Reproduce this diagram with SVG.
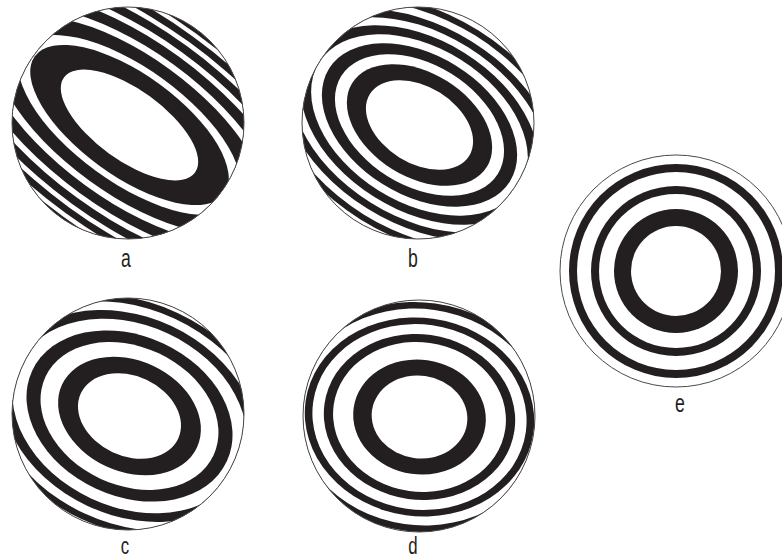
<svg xmlns="http://www.w3.org/2000/svg" width="782" height="559" viewBox="0 0 782 559">
<style>
.k{fill:#231f20}
.w{fill:#ffffff}
.rim{fill:none;stroke:#4a4a4a;stroke-width:1}
.lbl{font-family:"Liberation Sans",Arial,sans-serif;font-size:26px;fill:#231f20;text-anchor:middle}
.lbl2{font-family:"Liberation Sans",Arial,sans-serif;font-size:24px;fill:#231f20;text-anchor:middle}
</style>
<defs>
<clipPath id="clipA"><circle cx="128" cy="123" r="116"/></clipPath>
<clipPath id="clipB"><circle cx="418" cy="123" r="116"/></clipPath>
<clipPath id="clipC"><circle cx="128" cy="414" r="116"/></clipPath>
<clipPath id="clipD"><circle cx="419" cy="416" r="116"/></clipPath>
<clipPath id="clipE"><circle cx="676" cy="271" r="116"/></clipPath>
</defs>
<rect width="782" height="559" fill="#ffffff"/>
<g id="pattern-a">
<g clip-path="url(#clipA)">
<g transform="translate(129.5,125) rotate(36) scale(1.8,0.78)">
<circle class="k" r="165"/><circle class="w" r="158"/>
<circle class="k" r="152.5"/><circle class="w" r="145"/>
<circle class="k" r="139.5"/><circle class="w" r="131"/>
<circle class="k" r="125"/><circle class="w" r="115"/>
<circle class="k" r="108"/><circle class="w" r="96"/>
<circle class="k" r="88"/><circle class="w" r="73"/>
<circle class="k" r="65"/><circle class="w" r="45"/>
</g>
</g>
<circle class="rim" cx="128" cy="123" r="116"/>
<text class="lbl" transform="translate(126,267) scale(0.68,1)">a</text>
</g>
<g id="pattern-b">
<g clip-path="url(#clipB)">
<g transform="translate(419.5,125) rotate(32) scale(1.3,0.85)">
<circle class="k" r="150"/><circle class="w" r="143"/>
<circle class="k" r="131"/><circle class="w" r="124"/>
<circle class="k" r="116"/><circle class="w" r="108"/>
<circle class="k" r="100"/><circle class="w" r="91"/>
<circle class="k" r="82"/><circle class="w" r="71"/>
<circle class="k" r="61"/><circle class="w" r="45"/>
</g>
</g>
<circle class="rim" cx="418" cy="123" r="116"/>
<text class="lbl" transform="translate(413,267) scale(0.68,1)">b</text>
</g>
<g id="pattern-c">
<g clip-path="url(#clipC)">
<g transform="translate(129.5,416) rotate(25) scale(1.22,0.91)">
<circle class="k" r="139"/><circle class="w" r="133"/>
<circle class="k" r="125"/><circle class="w" r="118"/>
<circle class="k" r="109"/><circle class="w" r="100"/>
<circle class="k" r="88"/><circle class="w" r="76"/>
<circle class="k" r="61"/><circle class="w" r="44"/>
</g>
</g>
<circle class="rim" cx="128" cy="414" r="116"/>
<text class="lbl2" transform="translate(125,553.5) scale(0.7,1)">c</text>
</g>
<g id="pattern-d">
<g clip-path="url(#clipD)">
<g transform="translate(419.5,417) rotate(8) scale(1.09,0.94)">
<circle class="k" r="136"/><circle class="w" r="130"/>
<circle class="k" r="122"/><circle class="w" r="115"/>
<circle class="k" r="105.5"/><circle class="w" r="98.5"/>
<circle class="k" r="88"/><circle class="w" r="79.5"/>
<circle class="k" r="61"/><circle class="w" r="44"/>
</g>
</g>
<circle class="rim" cx="419" cy="416" r="116"/>
<text class="lbl2" transform="translate(413,553.5) scale(0.7,1)">d</text>
</g>
<g id="pattern-e">
<g clip-path="url(#clipE)">
<g transform="translate(676,271)">
<circle class="k" r="107"/><circle class="w" r="99"/>
<circle class="k" r="85"/><circle class="w" r="77"/>
<circle class="k" r="62"/><circle class="w" r="45"/>
</g>
</g>
<circle class="rim" cx="676" cy="271" r="116"/>
<text class="lbl" transform="translate(680,411.5) scale(0.68,1)">e</text>
</g>
</svg>
